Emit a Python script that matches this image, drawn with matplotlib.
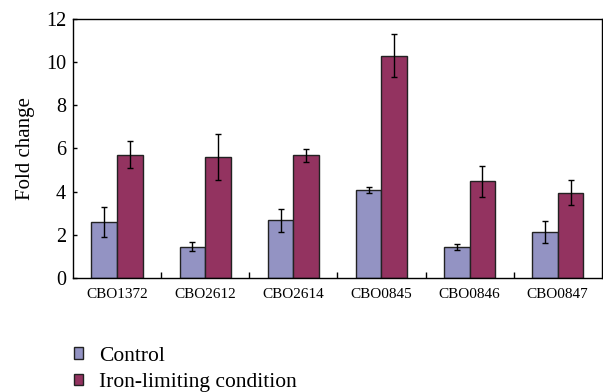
import matplotlib
matplotlib.use("Agg")
import matplotlib.pyplot as plt
import numpy as np
from matplotlib.patches import Patch

categories = ["CBO1372", "CBO2612", "CBO2614", "CBO0845", "CBO0846", "CBO0847"]
control = [2.60, 1.45, 2.66, 4.06, 1.44, 2.12]
control_err = [0.70, 0.22, 0.55, 0.13, 0.15, 0.50]
iron = [5.70, 5.61, 5.67, 10.30, 4.48, 3.95]
iron_err = [0.62, 1.07, 0.28, 0.99, 0.72, 0.57]
yticks = [0, 2, 4, 6, 8, 10, 12]

plt.rcParams['font.family'] = ['Liberation Serif', 'DejaVu Serif']

fig = plt.figure(figsize=(6.03, 3.92), dpi=100)
ax = fig.add_axes([0.121, 0.291, 0.877, 0.661])

x = np.arange(len(categories))
w = 0.29
c1 = "#9393c3"
c2 = "#933360"
ax.bar(x - w/2, control, w, color=c1, edgecolor="#222222", linewidth=1.0, label="Control")
ax.bar(x + w/2, iron, w, color=c2, edgecolor="#222222", linewidth=1.0, label="Iron-limiting condition")
ax.errorbar(x - w/2, control, yerr=control_err, fmt="none", ecolor="black", elinewidth=1.0, capsize=2.5, capthick=1.0)
ax.errorbar(x + w/2, iron, yerr=iron_err, fmt="none", ecolor="black", elinewidth=1.0, capsize=2.5, capthick=1.0)

ax.set_xlim(-0.5, len(categories) - 0.5)
ax.set_ylim(0, 12)
ax.set_yticks(yticks)
ax.set_yticklabels([str(t) for t in yticks], fontsize=14.5)
ax.tick_params(axis='y', direction='in', length=3, width=1, pad=5)
ax.set_xticks(x)
ax.set_xticklabels(categories, fontsize=11)
ax.tick_params(axis='x', length=0, pad=7)
ax.set_xticks(np.arange(len(categories) - 1) + 0.5, minor=True)
ax.tick_params(axis='x', which='minor', direction='in', length=4, width=1)
for s in ax.spines.values():
    s.set_linewidth(1.0)
    s.set_color("black")
ax.set_ylabel("Fold change", fontsize=15, labelpad=8)

handles = [Patch(facecolor=c1, edgecolor="#222222", label="Control"),
           Patch(facecolor=c2, edgecolor="#222222", label="Iron-limiting condition")]
fig.legend(handles=handles, loc="lower left", bbox_to_anchor=(0.09, -0.05), frameon=False,
           fontsize=15.5, handlelength=0.45, handleheight=0.45, handletextpad=0.75, labelspacing=0.35)

fig.savefig("out.png", dpi=100)
